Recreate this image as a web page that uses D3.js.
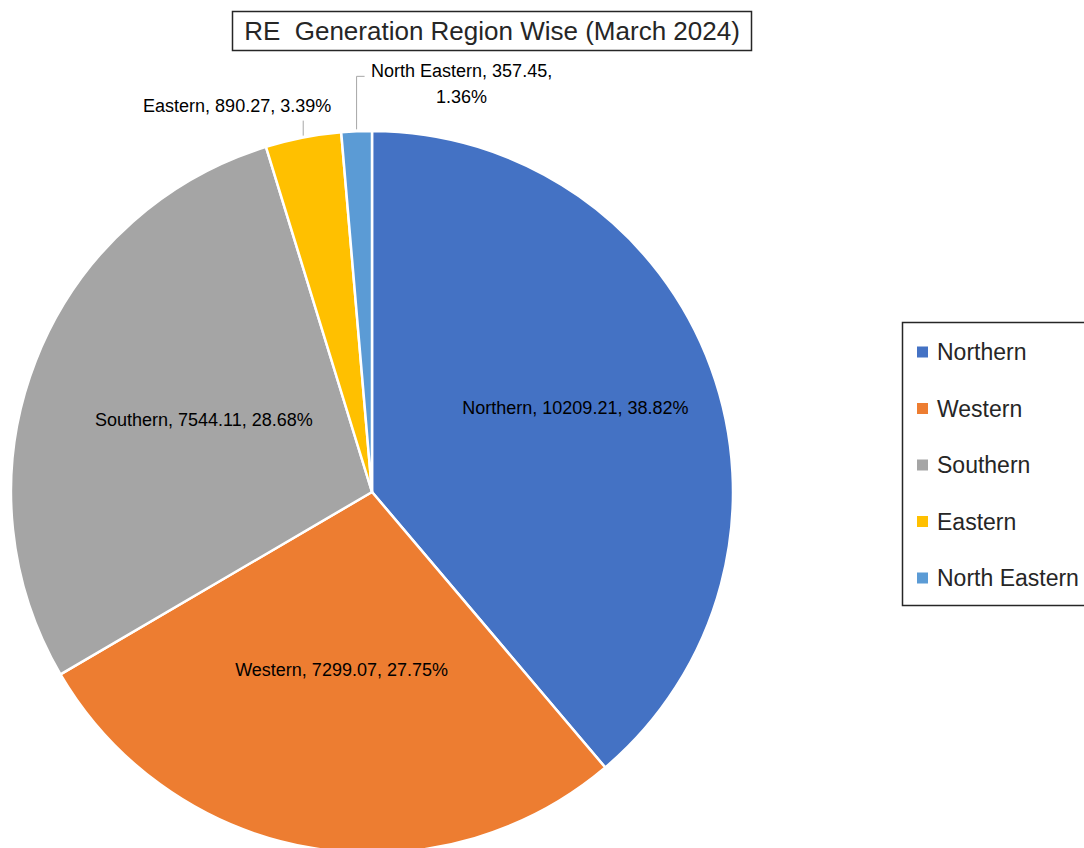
<!DOCTYPE html>
<html>
    <head>
        <meta charset="utf-8">
        <title>RE Generation Region Wise</title>
        <script src="https://d3js.org/d3.v7.min.js"></script>
        <style>
            html, body {
                margin: 0;
                padding: 0;
                background: #FFF;
                overflow: hidden;
            }
            svg {
                display: block;
                font-family: "Liberation Sans", Arial, sans-serif;
            }
            .title {
                white-space: pre;
            }
        </style>
    </head>
    <body>
        <svg id="chart" width="1084" height="848"></svg>
        <script>
            // data
            const regions = ['Northern', 'Western', 'Southern', 'Eastern', 'North Eastern'];
            const generation = [10209.21, 7299.07, 7544.11, 890.27, 357.45];
            const colors = ['#4472C4', '#ED7D31', '#A5A5A5', '#FFC000', '#5B9BD5'];
            const titleText = 'RE  Generation Region Wise (March 2024)';

            const cx = 372;
            const cy = 492;
            const radius = 361;

            const svg = d3.select('#chart');
            const total = d3.sum(generation);
            const pct = v => (v / total * 100).toFixed(2) + '%';

            const data = regions.map((name, i) => ({
                name,
                value: generation[i],
                color: colors[i],
            }));

            const pie = d3.pie()
                .value(d => d.value)
                .sort(null);
            const arcs = pie(data);
            const arc = d3.arc()
                .innerRadius(0)
                .outerRadius(radius);

            const gPie = svg.append('g')
                .attr('transform', `translate(${cx},${cy})`);

            gPie.selectAll('path.slice')
                .data(arcs)
                .join('path')
                .attr('class', 'slice')
                .attr('d', arc)
                .attr('fill', d => d.data.color)
                .attr('stroke', '#FFF')
                .attr('stroke-width', 2.5)
                .attr('stroke-linejoin', 'round');

            // inside labels for the big slices
            const insideFactor = {Northern: 0.6};
            const insideShift = {Northern: -10, Southern: -7};
            const inside = arcs.filter(d => d.endAngle - d.startAngle > 0.5);
            gPie.selectAll('text.inlabel')
                .data(inside)
                .join('text')
                .attr('class', 'inlabel')
                .attr('transform', d => {
                    const r = radius * (insideFactor[d.data.name] || 0.5);
                    const c = d3.arc().innerRadius(r).outerRadius(r).centroid(d);
                    return `translate(${c[0]},${c[1] + (insideShift[d.data.name] || 0)})`;
                })
                .attr('text-anchor', 'middle')
                .attr('dy', '0.35em')
                .attr('font-size', 18)
                .attr('fill', '#000')
                .text(d => `${d.data.name}, ${d.data.value}, ${pct(d.data.value)}`);

            // outside labels with leader lines for small slices
            const edge = d3.arc().innerRadius(radius).outerRadius(radius);
            const small = arcs.filter(d => d.endAngle - d.startAngle <= 0.5);
            small.forEach(d => {
                const [px, py] = edge.centroid(d);
                const label = `${d.data.name}, ${d.data.value}, ${pct(d.data.value)}`;
                if (d.data.name === 'Eastern') {
                    gPie.append('line')
                        .attr('x1', px).attr('y1', py - 2)
                        .attr('x2', px).attr('y2', py - 17)
                        .attr('stroke', '#A6A6A6')
                        .attr('stroke-width', 1);
                    gPie.append('text')
                        .attr('x', px + 28)
                        .attr('y', py - 26)
                        .attr('text-anchor', 'end')
                        .attr('font-size', 18)
                        .text(label);
                } else {
                    gPie.append('path')
                        .attr('d', `M${px},${py - 2}V${py - 55}H${px + 8}`)
                        .attr('fill', 'none')
                        .attr('stroke', '#A6A6A6')
                        .attr('stroke-width', 1);
                    const t = gPie.append('text')
                        .attr('text-anchor', 'middle')
                        .attr('font-size', 18);
                    t.append('tspan')
                        .attr('x', px + 105)
                        .attr('y', py - 54)
                        .text(`${d.data.name}, ${d.data.value},`);
                    t.append('tspan')
                        .attr('x', px + 105)
                        .attr('y', py - 28)
                        .text(pct(d.data.value));
                }
            });

            // title box
            const gTitle = svg.append('g');
            gTitle.append('rect')
                .attr('x', 232.5)
                .attr('y', 11.5)
                .attr('width', 519)
                .attr('height', 39)
                .attr('fill', '#FFF')
                .attr('stroke', '#262626')
                .attr('stroke-width', 1.5);
            gTitle.append('text')
                .attr('class', 'title')
                .attr('x', 492)
                .attr('y', 40)
                .attr('text-anchor', 'middle')
                .attr('font-size', 26)
                .attr('fill', '#262626')
                .text(titleText);

            // legend
            const gLegend = svg.append('g');
            gLegend.append('rect')
                .attr('x', 902.5)
                .attr('y', 322.5)
                .attr('width', 200)
                .attr('height', 283)
                .attr('fill', '#FFF')
                .attr('stroke', '#262626')
                .attr('stroke-width', 1.5);
            const legendY = d3.scalePoint()
                .domain(regions)
                .range([352, 578]);
            const items = gLegend.selectAll('g.item')
                .data(data)
                .join('g')
                .attr('class', 'item')
                .attr('transform', d => `translate(917,${legendY(d.name)})`);
            items.append('rect')
                .attr('x', 0)
                .attr('y', -5.5)
                .attr('width', 11)
                .attr('height', 11)
                .attr('fill', d => d.color);
            items.append('text')
                .attr('x', 20)
                .attr('dy', '0.36em')
                .attr('font-size', 23)
                .attr('fill', '#262626')
                .text(d => d.name);
        </script>
    </body>
</html>
